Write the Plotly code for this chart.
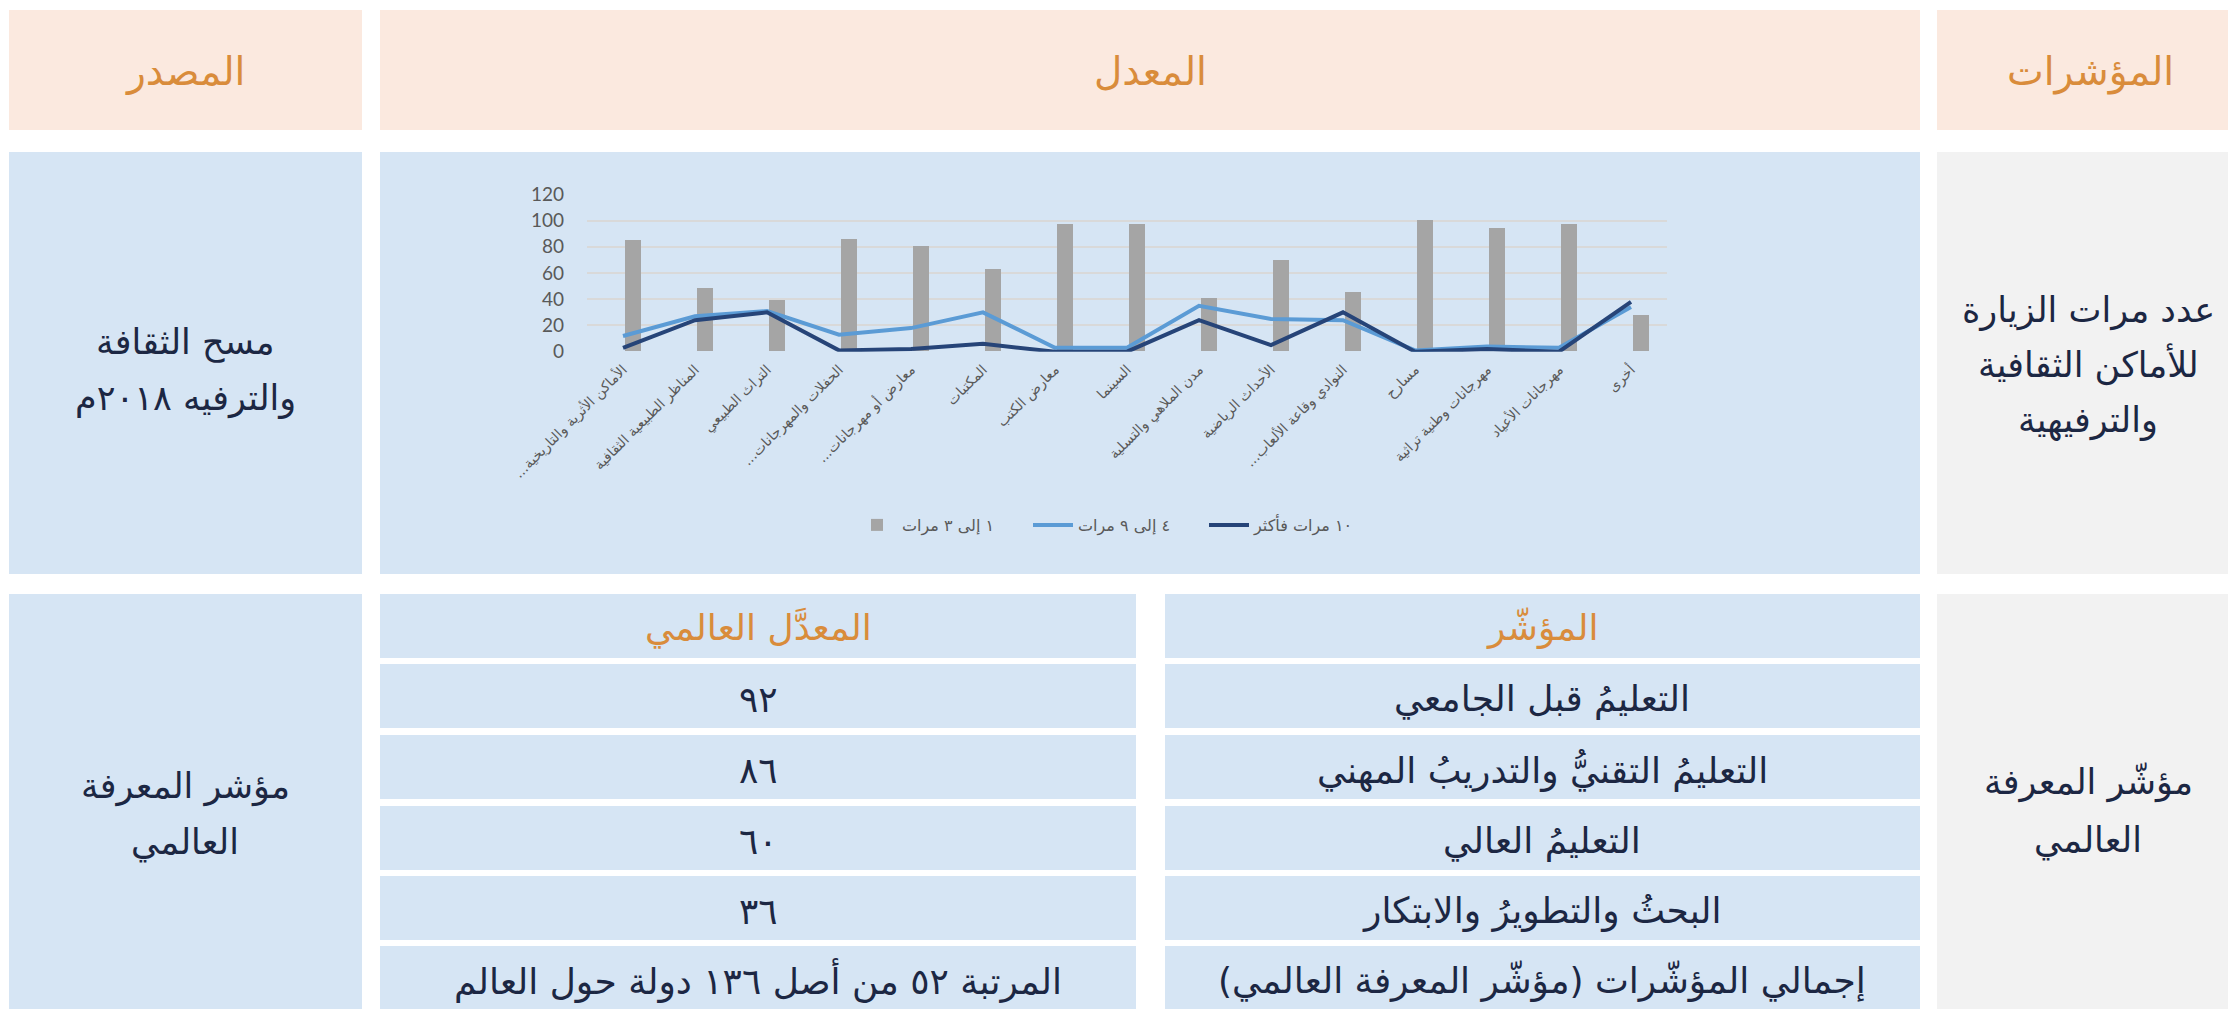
import plotly.graph_objects as go

W, H = 2228, 1009

# ---------------- data ----------------
categories = [
    "الأماكن الأثرية والتاريخية...\u200f",
    "المناظر الطبيعية الثقافية",
    "التراث الطبيعي",
    "الحفلات والمهرجانات...\u200f",
    "معارض أو مهرجانات...\u200f",
    "المكتبات",
    "معارض الكتب",
    "السينما",
    "مدن الملاهي والتسلية",
    "الأحداث الرياضية",
    "النوادي وقاعة الألعاب...\u200f",
    "مسارح",
    "مهرجانات وطنية تراثية",
    "مهرجانات الأعياد",
    "أخرى",
]
visits_1_3 = [85, 48, 39, 86, 80, 63, 97, 97, 41, 70, 45, 100, 94, 97, 28]
visits_4_9 = [12, 27, 31, 13, 18, 30, 3, 3, 35, 25, 24, 1, 4, 3, 34]
visits_10p = [3, 24, 30, 1, 2, 6, 0, 0, 24, 5, 30, 0, 2, 0, 38]
series_names = ["١ إلى ٣ مرات", "٤ إلى ٩ مرات", "١٠ مرات فأكثر"]
y_ticks = [0, 20, 40, 60, 80, 100, 120]

headers = ["المصدر", "المعدل", "المؤشرات"]
indicator_1 = ["عدد مرات الزيارة", "للأماكن الثقافية", "والترفيهية"]
source_1 = ["مسح الثقافة", "والترفيه ٢٠١٨م"]
indicator_2 = ["مؤشّر المعرفة", "العالمي"]
source_2 = ["مؤشر المعرفة", "العالمي"]
sub_headers = ["المؤشّر", "المعدَّل العالمي"]
sub_indicators = [
    "التعليمُ قبل الجامعي",
    "التعليمُ التقنيُّ والتدريبُ المهني",
    "التعليمُ العالي",
    "البحثُ والتطويرُ والابتكار",
    "إجمالي المؤشّرات (مؤشّر المعرفة العالمي)\u200f",
]
sub_values = ["٩٢", "٨٦", "٦٠", "٣٦", "المرتبة ٥٢ من أصل ١٣٦ دولة حول العالم"]

# ---------------- styles ----------------
PEACH = "#FBE9DF"
BLUE = "#D6E5F4"
GREY = "#F2F2F2"
ORANGE = "#D98C3B"
NAVY = "#1C2743"
AR_FONT = "DejaVu Sans"


def px(x):
    return x / W


def py(y):
    return 1 - y / H


fig = go.Figure()

fig.add_trace(go.Bar(
    x=categories, y=visits_1_3, name=series_names[0],
    marker=dict(color="#A5A5A5", line=dict(width=0)),
    width=0.22, offset=0.03,
))
fig.add_trace(go.Scatter(
    x=categories, y=visits_4_9, name=series_names[1], mode="lines",
    line=dict(color="#5B9BD5", width=4),
))
fig.add_trace(go.Scatter(
    x=categories, y=visits_10p, name=series_names[2], mode="lines",
    line=dict(color="#264478", width=4),
))

# ---------------- table cells ----------------
cells = [
    # header row
    (9, 10, 362, 130, PEACH),
    (380, 10, 1920, 130, PEACH),
    (1937, 10, 2228, 130, PEACH),
    # row 1
    (9, 152, 362, 574, BLUE),
    (380, 152, 1920, 574, BLUE),
    (1937, 152, 2228, 574, GREY),
    # row 2
    (9, 594, 362, 1009, BLUE),
    (1937, 594, 2228, 1009, GREY),
]
row_bounds = [(594, 658), (664, 728), (735, 799), (806, 870), (876, 940), (946, 1009)]
for (y0, y1) in row_bounds:
    cells.append((380, y0, 1136, y1, BLUE))
    cells.append((1165, y0, 1920, y1, BLUE))

shapes = []
for (x0, y0, x1, y1, col) in cells:
    shapes.append(dict(type="rect", xref="paper", yref="paper",
                       x0=px(x0), x1=px(x1), y0=py(y1), y1=py(y0),
                       fillcolor=col, line=dict(width=0), layer="below"))

annotations = []


def txt(x, y, s, color=NAVY, size=35):
    annotations.append(dict(x=px(x), y=py(y), xref="paper", yref="paper",
                            text=s, showarrow=False, xanchor="center", yanchor="middle",
                            font=dict(family=AR_FONT, size=size, color=color)))


# headers
txt(185, 72, headers[0], ORANGE, 39)
txt(1150, 72, headers[1], ORANGE, 39)
txt(2090, 72, headers[2], ORANGE, 39)

# row 1
for i, s in enumerate(indicator_1):
    txt(2088, 310 + 55 * i, s)
for i, s in enumerate(source_1):
    txt(185, 342 + 56 * i, s)

# row 2
for i, s in enumerate(indicator_2):
    txt(2088, 782 + 58 * i, s)
for i, s in enumerate(source_2):
    txt(185, 786 + 56 * i, s)

# sub table
centers = [(a + b) / 2 for a, b in row_bounds]
txt(1542, centers[0] + 2, sub_headers[0], ORANGE, 36)
txt(758, centers[0] + 2, sub_headers[1], ORANGE, 36)
for i in range(5):
    txt(1542, centers[i + 1] + 3, sub_indicators[i], NAVY, 36)
    txt(758, centers[i + 1] + 3, sub_values[i], NAVY, 36)

fig.update_layout(
    width=W, height=H, autosize=False,
    margin=dict(l=0, r=0, t=0, b=0, pad=0, autoexpand=False),
    paper_bgcolor="white", plot_bgcolor="rgba(0,0,0,0)",
    shapes=shapes, annotations=annotations,
    bargap=0,
    showlegend=True,
    legend=dict(orientation="h", x=px(852), y=py(525), xanchor="left", yanchor="middle",
                bgcolor="rgba(0,0,0,0)", font=dict(family=AR_FONT, size=16, color="#595959"),
                itemwidth=40, entrywidth=121, traceorder="normal"),
    xaxis=dict(domain=[px(587), px(1667)], type="category", automargin=False,
               tickangle=-45, tickfont=dict(family=AR_FONT, size=14, color="#595959"),
               showgrid=False, showline=False, zeroline=False, ticks="",
               ticklabelstandoff=6),
    yaxis=dict(domain=[py(351.7), py(194.3)], range=[0, 120], tickvals=y_ticks, automargin=False,
               tickfont=dict(family="Lato", size=19, color="#595959"),
               showgrid=True, gridcolor="#D9D9D9", gridwidth=2,
               zeroline=False, showline=False, ticks="", ticklabelstandoff=22),
)

fig.write_html("out.html", post_script="document.body.style.margin='0';")
